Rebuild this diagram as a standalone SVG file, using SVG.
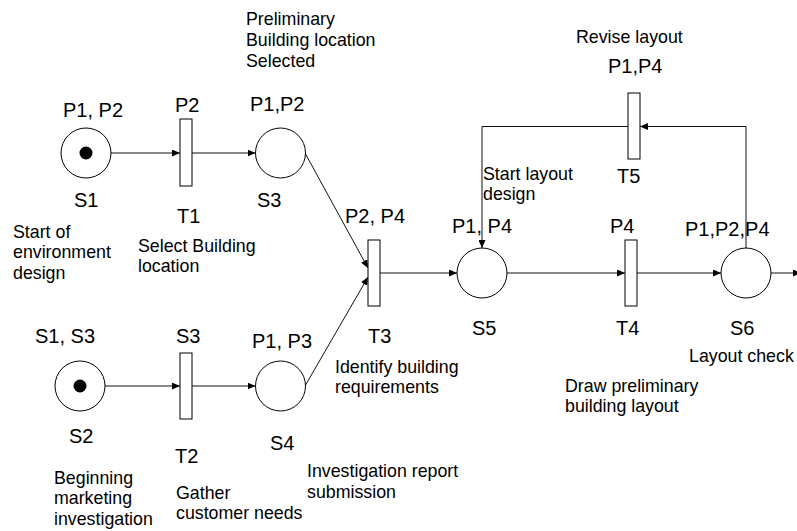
<svg xmlns="http://www.w3.org/2000/svg" width="797" height="531" viewBox="0 0 797 531">
  <style>
    text { font-family: "Liberation Sans", Arial, sans-serif; fill: #000; }
    .lbl { font-size: 20px; }
    .desc { font-size: 17.8px; }
    .place { fill: #fff; stroke: #000; stroke-width: 1; }
    .trans { fill: #fff; stroke: #000; stroke-width: 1; }
    .token { fill: #000; }
    .arc { fill: none; stroke: #111; stroke-width: 1; }
  </style>
  <defs>
    <marker id="arr" viewBox="0 0 8 7" refX="8" refY="3.5" markerWidth="8" markerHeight="7" orient="auto" markerUnits="userSpaceOnUse">
      <path d="M0,0 L8,3.5 L0,7 z" fill="#000"/>
    </marker>
  </defs>

  <!-- arcs of the net -->
  <g id="connectors">
    <path class="arc" d="M111,153 H180" marker-end="url(#arr)"/>
    <path class="arc" d="M192,153 H255.5" marker-end="url(#arr)"/>
    <path class="arc" d="M105,386 H180" marker-end="url(#arr)"/>
    <path class="arc" d="M192,386 H255.5" marker-end="url(#arr)"/>
    <path class="arc" d="M305,153 L368,268" marker-end="url(#arr)"/>
    <path class="arc" d="M305,386 L368,277" marker-end="url(#arr)"/>
    <path class="arc" d="M380,273 H457" marker-end="url(#arr)"/>
    <path class="arc" d="M507,273 H625" marker-end="url(#arr)"/>
    <path class="arc" d="M637,273 H721" marker-end="url(#arr)"/>
    <path class="arc" d="M746,248 V126.5 H640" marker-end="url(#arr)"/>
    <path class="arc" d="M628,126.5 H482 V248" marker-end="url(#arr)"/>
    <path class="arc" d="M771,273 H801" marker-end="url(#arr)"/>
  </g>

  <!-- places -->
  <g id="S1">
    <circle class="place" cx="86" cy="153" r="25"/>
    <circle class="token" cx="86" cy="153" r="6.5"/>
    <text class="lbl" x="63" y="117">P1, P2</text>
    <text class="lbl" x="74" y="207">S1</text>
    <text class="desc" x="13" y="238">Start of</text>
    <text class="desc" x="13" y="258">environment</text>
    <text class="desc" x="13" y="279">design</text>
  </g>
  <g id="S2">
    <circle class="place" cx="80" cy="386" r="25"/>
    <circle class="token" cx="80" cy="386" r="6.5"/>
    <text class="lbl" x="35" y="343">S1, S3</text>
    <text class="lbl" x="69" y="443">S2</text>
    <text class="desc" x="54" y="484">Beginning</text>
    <text class="desc" x="54" y="504">marketing</text>
    <text class="desc" x="54" y="525">investigation</text>
  </g>
  <g id="S3">
    <circle class="place" cx="280.5" cy="153" r="25"/>
    <text class="lbl" x="250" y="111">P1,P2</text>
    <text class="lbl" x="257" y="207">S3</text>
    <text class="desc" x="246" y="24.5">Preliminary</text>
    <text class="desc" x="246" y="45.5">Building location</text>
    <text class="desc" x="246" y="66.5">Selected</text>
  </g>
  <g id="S4">
    <circle class="place" cx="280.5" cy="386" r="25"/>
    <text class="lbl" x="252" y="348">P1, P3</text>
    <text class="lbl" x="270" y="450">S4</text>
    <text class="desc" x="307" y="477">Investigation report</text>
    <text class="desc" x="307" y="498">submission</text>
  </g>
  <g id="S5">
    <circle class="place" cx="482" cy="273" r="25"/>
    <text class="lbl" x="452" y="233">P1, P4</text>
    <text class="lbl" x="472" y="335">S5</text>
    <text class="desc" x="483" y="180">Start layout</text>
    <text class="desc" x="483" y="200">design</text>
  </g>
  <g id="S6">
    <circle class="place" cx="746" cy="273" r="25"/>
    <text class="lbl" x="685" y="236">P1,P2,P4</text>
    <text class="lbl" x="730" y="335">S6</text>
    <text class="desc" x="689" y="362">Layout check</text>
  </g>

  <!-- transitions -->
  <g id="T1">
    <rect class="trans" x="180" y="119" width="12" height="67"/>
    <text class="lbl" x="175" y="112">P2</text>
    <text class="lbl" x="177" y="223">T1</text>
    <text class="desc" x="138" y="252">Select Building</text>
    <text class="desc" x="138" y="272">location</text>
  </g>
  <g id="T2">
    <rect class="trans" x="180" y="353" width="12" height="66"/>
    <text class="lbl" x="176" y="343">S3</text>
    <text class="lbl" x="175" y="463">T2</text>
    <text class="desc" x="176" y="499">Gather</text>
    <text class="desc" x="176" y="519">customer needs</text>
  </g>
  <g id="T3">
    <rect class="trans" x="368" y="240" width="12" height="66"/>
    <text class="lbl" x="345" y="223">P2, P4</text>
    <text class="lbl" x="368" y="343">T3</text>
    <text class="desc" x="335" y="373">Identify building</text>
    <text class="desc" x="335" y="393">requirements</text>
  </g>
  <g id="T4">
    <rect class="trans" x="625" y="240" width="12" height="66"/>
    <text class="lbl" x="610" y="233">P4</text>
    <text class="lbl" x="616" y="335">T4</text>
    <text class="desc" x="565" y="392">Draw preliminary</text>
    <text class="desc" x="565" y="412">building layout</text>
  </g>
  <g id="T5">
    <rect class="trans" x="628" y="93" width="12" height="66"/>
    <text class="lbl" x="608" y="73">P1,P4</text>
    <text class="lbl" x="617" y="183">T5</text>
    <text class="desc" x="576" y="43">Revise layout</text>
  </g>
</svg>
